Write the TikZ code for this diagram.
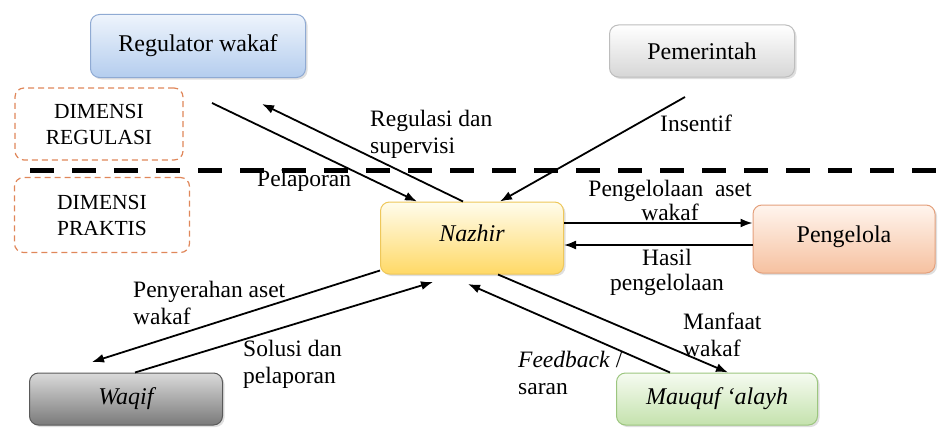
\documentclass[tikz,border=0pt]{standalone}
\usepackage{fontspec}
\setmainfont{Liberation Serif}
\usetikzlibrary{arrows.meta,shadows}
\definecolor{regtop}{HTML}{EEF4FC}
\definecolor{regbot}{HTML}{B4CDEE}
\definecolor{regdraw}{HTML}{8FAAD3}
\definecolor{pemtop}{HTML}{FFFFFF}
\definecolor{pembot}{HTML}{D6D6D6}
\definecolor{pemdraw}{HTML}{BDBDBD}
\definecolor{naztop}{HTML}{FFFCEC}
\definecolor{nazbot}{HTML}{FFD966}
\definecolor{nazdraw}{HTML}{EEC75A}
\definecolor{pengtop}{HTML}{FFF5EE}
\definecolor{pengbot}{HTML}{F6C1A0}
\definecolor{pengdraw}{HTML}{E4A07C}
\definecolor{waqtop}{HTML}{DADADA}
\definecolor{waqbot}{HTML}{7A7A7A}
\definecolor{waqdraw}{HTML}{5A5A5A}
\definecolor{mautop}{HTML}{F6FBF1}
\definecolor{maubot}{HTML}{C4E2AD}
\definecolor{maudraw}{HTML}{9CC67F}
\definecolor{dimdraw}{HTML}{E0875A}
\tikzset{
  box/.style={rounded corners=9pt, line width=1pt, inner sep=0pt,
    font=\fontsize{24}{28}\selectfont, drop shadow={opacity=0.25, shadow xshift=2pt, shadow yshift=-2pt}},
  dimbox/.style={rounded corners=9pt, draw=dimdraw, dash pattern=on 6pt off 4pt, line width=1.2pt,
    fill=white, align=center, font=\fontsize{21.5}{26}\selectfont, inner sep=0pt},
  lbl/.style={font=\fontsize{23.5}{27}\selectfont, inner sep=0pt, align=left},
  arr/.style={line width=1.8pt, -{Latex[length=12pt,width=9pt]}},
}
\begin{document}
\begin{tikzpicture}[x=1pt,y=-1pt]
\useasboundingbox (0,0) rectangle (950,428);
% dimension boxes
\node[dimbox, minimum width=168pt, minimum height=72pt] (dimreg) at (99,124) {DIMENSI\\REGULASI};
\node[dimbox, minimum width=175pt, minimum height=75pt] (dimprak) at (102,215) {DIMENSI\\PRAKTIS};
% separator
\coordinate (sepL) at (30,170);
\coordinate (sepR) at (940,170);
\draw[line width=5pt, dash pattern=on 24pt off 18pt] (sepL) -- (sepR);
% main nodes
\node[box, minimum width=215pt, minimum height=63pt, top color=regtop, bottom color=regbot, draw=regdraw] (reg) at (198,46) {\raisebox{2pt}{Regulator wakaf}};
\node[box, minimum width=185pt, minimum height=52pt, top color=pemtop, bottom color=pembot, draw=pemdraw] (pem) at (702,51) {Pemerintah};
\node[box, minimum width=183pt, minimum height=72pt, top color=naztop, bottom color=nazbot, draw=nazdraw] (naz) at (472,238) {\raisebox{9pt}{\itshape Nazhir}};
\node[box, minimum width=182pt, minimum height=68pt, top color=pengtop, bottom color=pengbot, draw=pengdraw] (peng) at (844,239) {\raisebox{9pt}{Pengelola}};
\node[box, minimum width=193pt, minimum height=52pt, top color=waqtop, bottom color=waqbot, draw=waqdraw] (waq) at (126,399) {\itshape Waqif};
\node[box, minimum width=201pt, minimum height=52pt, top color=mautop, bottom color=maubot, draw=maudraw] (mau) at (717,399) {\itshape Mauquf \textquoteleft alayh};
% free ends
\coordinate (pelStart) at (212,103);
\coordinate (regEnd) at (262,104);
\coordinate (insStart) at (685,97);
\coordinate (penyEnd) at (92,362);
\coordinate (solEnd) at (433,282);
\coordinate (fbEnd) at (468,284);
% connectors
\draw[arr] (pelStart) -- ([xshift=-55pt]naz.north);
\draw[arr] ([xshift=-9pt]naz.north) -- (regEnd);
\draw[arr] (insStart) -- ([xshift=28pt]naz.north);
\draw[arr] ([yshift=15pt]naz.east) -- ([yshift=16pt]peng.west);
\draw[arr] ([yshift=-6pt]peng.west) -- ([yshift=-7pt]naz.east);
\draw[arr] ([yshift=4pt]naz.south west) -- (penyEnd);
\draw[arr] ([xshift=9pt]waq.north) -- (solEnd);
\draw[arr] ([xshift=-47pt]mau.north) -- (fbEnd);
\draw[arr] ([xshift=26pt]naz.south) -- ([xshift=11pt]mau.north);
% labels
\node[lbl, anchor=west] (lreg) at (370,134) {Regulasi dan\\supervisi};
\node[lbl, anchor=west] (lpel) at (257,181) {Pelaporan};
\node[lbl, anchor=west] (lins) at (660,123) {Insentif};
\node[lbl, align=center, font=\fontsize{23.5}{24}\selectfont] (lpeng) at (670,200) {Pengelolaan\ \ aset\\wakaf};
\node[lbl, align=center, font=\fontsize{23.5}{25}\selectfont] (lhas) at (667,272) {Hasil\\pengelolaan};
\node[lbl, anchor=west] (lman) at (683,335) {Manfaat\\wakaf};
\node[lbl, anchor=west] (lfb) at (518,373) {\textit{Feedback} /\\saran};
\node[lbl, anchor=west] (lpeny) at (133,303) {Penyerahan aset\\wakaf};
\node[lbl, anchor=west] (lsol) at (243,364) {Solusi dan\\pelaporan};
\end{tikzpicture}
\end{document}
